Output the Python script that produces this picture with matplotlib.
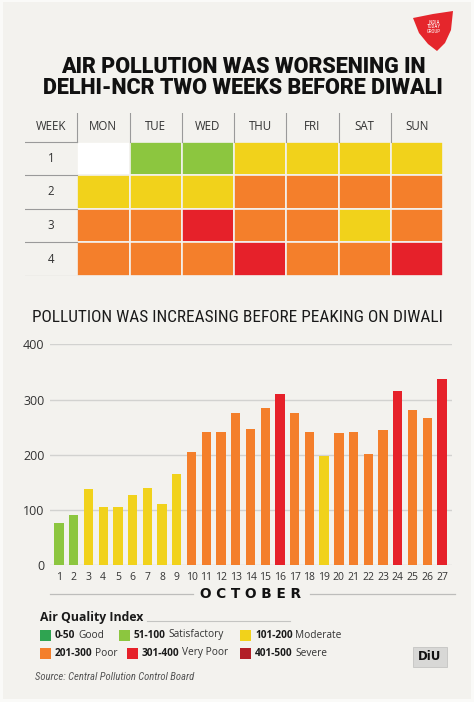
import matplotlib
matplotlib.use('Agg')
import matplotlib.pyplot as plt
from matplotlib.patches import Rectangle, Polygon
from matplotlib import font_manager as fm

# ---------------- data ----------------
days = list(range(1, 28))
aqi = [76, 90, 138, 106, 105, 127, 140, 111, 165, 205, 241, 241, 275, 247,
       285, 310, 275, 241, 197, 239, 241, 202, 244, 315, 281, 267, 338]
weekdays = ['MON', 'TUE', 'WED', 'THU', 'FRI', 'SAT', 'SUN']
weeks = ['1', '2', '3', '4']
first_weekday = 1          # October 1 falls on a Tuesday (MON = 0)
y_ticks = [0, 100, 200, 300, 400]
aqi_upper = [50, 100, 200, 300, 400, 500]
aqi_ranges = ['0-50', '51-100', '101-200', '201-300', '301-400', '401-500']
aqi_labels = ['Good', 'Satisfactory', 'Moderate', 'Poor', 'Very Poor', 'Severe']
aqi_colors = ['#2fa451', '#8cc63f', '#f1d21b', '#f47f2b', '#e6212a', '#b21f27']
title_lines = ['AIR POLLUTION WAS WORSENING IN', 'DELHI-NCR TWO WEEKS BEFORE DIWALI']
subtitle = 'POLLUTION WAS INCREASING BEFORE PEAKING ON DIWALI'
month = 'OCTOBER'
legend_title = 'Air Quality Index'
source = 'Source: Central Pollution Control Board'


def aqi_color(v):
    for up, c in zip(aqi_upper, aqi_colors):
        if v <= up:
            return c
    return aqi_colors[-1]


names = {f.name for f in fm.fontManager.ttflist}


def pick(cands, default='DejaVu Sans'):
    for c in cands:
        if c in names:
            return c
    return default


NARROW = pick(['Liberation Sans Narrow', 'Roboto Condensed', 'Open Sans Condensed',
               'Arial Narrow', 'Roboto'])
HEAVY = pick(['Roboto', 'Inter', 'Lato'])
BODY = pick(['Open Sans', 'Lato'])
plt.rcParams['font.family'] = [BODY, 'DejaVu Sans']

BG = '#f3f2ee'
W, H = 474, 702
fig = plt.figure(figsize=(W / 100, H / 100), dpi=100, facecolor='#fafaf8')
renderer = fig.canvas.get_renderer()


def fr(x0, y0, x1, y1):
    return [x0 / W, 1 - y1 / H, (x1 - x0) / W, (y1 - y0) / H]


def fit(t, target):
    """scale a text's size so that its width matches target pixels"""
    for _ in range(3):
        w = t.get_window_extent(renderer).width
        t.set_fontsize(t.get_fontsize() * target / w)
    return t


# overlay axes in pixel coordinates for decorations
bg = fig.add_axes([0, 0, 1, 1])
bg.set_xlim(0, W)
bg.set_ylim(H, 0)
bg.axis('off')
bg.patch.set_alpha(0)
bg.add_patch(Rectangle((3, 2), W - 6, H - 5, facecolor=BG, edgecolor='none', zorder=0))

# title
t1 = bg.text(243, 67, title_lines[0], ha='center', va='center', family=[HEAVY, 'DejaVu Sans'],
             fontweight='black', fontsize=14, color='#111111')
t2 = bg.text(243, 88.5, title_lines[1], ha='center', va='center', family=[HEAVY, 'DejaVu Sans'],
             fontweight='black', fontsize=14, color='#111111')
fit(t2, 400)
t1.set_fontsize(t2.get_fontsize())

# logo
shield = Polygon([(413, 18), (433, 14), (453, 11), (451, 30), (445, 43), (437, 51),
                  (428, 44), (419, 33)], closed=True, facecolor='#e5262c', edgecolor='none')
bg.add_patch(shield)
bg.text(434, 27, 'INDIA\nTODAY\nGROUP', ha='center', va='center', color='white',
        fontsize=3.6, linespacing=0.95, family=[NARROW, 'DejaVu Sans'])

# ---------------- heatmap calendar ----------------
hm = fig.add_axes(fr(25, 113, 443, 276))
hm.set_xlim(0, 8)
hm.set_ylim(4, -0.85)
hm.axis('off')
hm.patch.set_alpha(0)

for p in range(first_weekday):
    hm.add_patch(Rectangle((p + 1, 0), 1, 1, facecolor='white', edgecolor=BG, lw=1.2))
for d, v in zip(days, aqi):
    p = d - 1 + first_weekday
    row, col = divmod(p, 7)
    hm.add_patch(Rectangle((col + 1, row), 1, 1, facecolor=aqi_color(v), edgecolor=BG, lw=1.2))

for i, name in enumerate(['WEEK'] + weekdays):
    hm.text(i + 0.5, -0.45, name, ha='center', va='center', fontsize=8.3, color='#333333')
for i in range(1, 8):
    hm.plot([i, i], [-0.85, 0], color='#9a9a9a', lw=0.8)
for r, w in enumerate(weeks):
    hm.text(0.5, r + 0.5, w, ha='center', va='center', fontsize=8.3, color='#333333')
for r in range(5):
    hm.plot([0, 1], [r, r], color='#9a9a9a', lw=0.8)

# ---------------- bar chart ----------------
st = bg.text(237, 317, subtitle, ha='center', va='center', family=[NARROW, 'DejaVu Sans'],
             fontsize=11, color='#1a1a1a')
fit(st, 408)

ba = fig.add_axes(fr(50, 344.5, 452, 565))
ba.patch.set_alpha(0)
ba.bar(days, aqi, width=0.63, color=[aqi_color(v) for v in aqi], zorder=3)
ba.set_xlim(0.39, 27.68)
ba.set_ylim(0, 400)
ba.set_yticks(y_ticks)
ba.set_xticks(days)
ba.set_xticklabels([str(d) for d in days])
ba.grid(axis='y', color='#d2d2d0', lw=1)
ba.set_axisbelow(True)
for s in ba.spines.values():
    s.set_visible(False)
ba.tick_params(axis='y', length=0, pad=4, labelsize=9, labelcolor='#333333')
ba.tick_params(axis='x', length=0, pad=5, labelsize=7.5, labelcolor='#333333')

bg.text(251, 594, ' '.join(month), ha='center', va='center', fontweight='bold',
        fontsize=9.8, color='#111111', family='DejaVu Sans')
bg.plot([50, 193], [594, 594], color='#bdbdbb', lw=0.9)
bg.plot([310, 455], [594, 594], color='#bdbdbb', lw=0.9)

# ---------------- legend ----------------
bg.text(40, 617, legend_title, ha='left', va='center', fontweight='bold', fontsize=8.8,
        color='#1a1a1a')
bg.plot([147, 290], [621, 621], color='#c4c4c2', lw=0.8)

leg_pos = [(40, 635), (119, 635), (240, 635), (40, 653), (127, 653), (240, 653)]
for (x, y), rng, lab, col in zip(leg_pos, aqi_ranges, aqi_labels, aqi_colors):
    bg.add_patch(Rectangle((x, y - 5.5), 11.5, 11, facecolor=col, edgecolor='none'))
    t = bg.text(x + 15, y, rng, ha='left', va='center', fontweight='bold', fontsize=7.3,
                color='#1a1a1a')
    bg.annotate(lab, xy=(1, 0.5), xycoords=t, xytext=(2, 0), textcoords='offset points',
                ha='left', va='center', fontsize=7.3, color='#333333')

src = bg.text(35, 677, source, ha='left', va='center', family=[NARROW, 'DejaVu Sans'],
              style='italic', fontsize=7, color='#555555')
fit(src, 158)

# DIU logo
bg.add_patch(Rectangle((413, 647), 34, 20, facecolor='#d8d8d6', edgecolor='#c4c4c2', lw=0.6))
bg.text(430, 656, 'DiU', ha='center', va='center', fontweight='bold', fontsize=8.5,
        color='#111111', family='DejaVu Sans')

fig.savefig('out.png', dpi=100, facecolor=fig.get_facecolor())
